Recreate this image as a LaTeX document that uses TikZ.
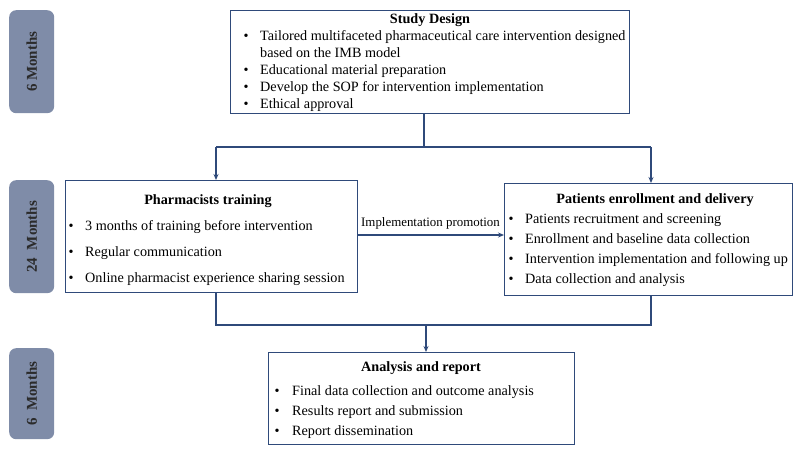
\documentclass[tikz,border=0pt]{standalone}
\usepackage{fontspec}
\setmainfont{Liberation Serif}
\usetikzlibrary{arrows.meta}
\definecolor{boxblue}{HTML}{2F4A7A}
\definecolor{pillfill}{HTML}{7F8CA8}
\definecolor{pilltext}{HTML}{2B2B2B}
\begin{document}
\begin{tikzpicture}[x=1pt,y=-1pt,
  box/.style={draw=boxblue,line width=1.3pt,fill=white,anchor=north west,inner sep=0pt},
  pill/.style={fill=pillfill,rounded corners=7pt,anchor=north west,inner sep=0pt,minimum width=45pt},
  pilllab/.style={rotate=90,font=\fontsize{15}{17}\selectfont\bfseries,text=pilltext},
  ttl/.style={font=\fontsize{14.2}{16}\selectfont\bfseries,anchor=base,inner sep=0pt},
  itm/.style={font=\fontsize{14.2}{16}\selectfont,anchor=base west,inner sep=0pt},
  bul/.style={font=\fontsize{14.2}{16}\selectfont,anchor=base,inner sep=0pt},
  conn/.style={draw=boxblue,line width=1.3pt},
  arr/.style={conn,-{Stealth[length=6pt,width=5pt]}}]
\useasboundingbox (0,0) rectangle (800,469);
% pills
\node[pill,minimum height=103pt] (p1) at (9,10) {};
\node[pilllab] at (p1.center) {6 Months};
\node[pill,minimum height=113pt] (p2) at (9,180) {};
\node[pilllab] at (p2.center) {24\enspace Months};
\node[pill,minimum height=91pt] (p3) at (9,348) {};
\node[pilllab] at (p3.center) {6\enspace Months};
% boxes
\node[box,minimum width=399pt,minimum height=103pt] (sd) at (230,10) {};
\node[box,minimum width=292pt,minimum height=112pt] (pt) at (65,180) {};
\node[box,minimum width=288pt,minimum height=112pt] (pe) at (504,183) {};
\node[box,minimum width=306pt,minimum height=92pt] (ar) at (268,352) {};
% study design text
\node[ttl] (sdt) at (430,23) {Study Design};
\foreach \y/\t/\b in {40/{Tailored multifaceted pharmaceutical care intervention designed}/1,
  57/{based on the IMB model}/0, 74/{Educational material preparation}/1,
  91/{Develop the SOP for intervention implementation}/1, 108/{Ethical approval}/1}{
  \node[itm] at (260,\y) {\t};
  \ifnum\b=1 \node[bul] at (246,\y) {•};\fi
}
% pharmacists training text
\node[ttl] (ptt) at (208,204) {Pharmacists training};
\foreach \y/\t in {230/{3 months of training before intervention},
  256/{Regular communication}, 282/{Online pharmacist experience sharing session}}{
  \node[itm] at (85,\y) {\t};
  \node[bul] at (71,\y) {•};
}
% patients text
\node[ttl] (pet) at (655,203) {Patients enrollment and delivery};
\foreach \y/\t in {223/{Patients recruitment and screening},
  243/{Enrollment and baseline data collection},
  263/{Intervention implementation and following up},
  283/{Data collection and analysis}}{
  \node[itm] at (525,\y) {\t};
  \node[bul] at (511,\y) {•};
}
% analysis text
\node[ttl] (art) at (421,371) {Analysis and report};
\foreach \y/\t in {395/{Final data collection and outcome analysis},
  415/{Results report and submission},
  435/{Report dissemination}}{
  \node[itm] at (292,\y) {\t};
  \node[bul] at (277,\y) {•};
}
% connectors
\coordinate (j1) at (424,147);
\coordinate (j1l) at (216,147);
\coordinate (j1r) at (651,147);
\draw[conn] (sd.south -| j1) -- (j1);
\draw[conn] (j1l) -- (j1r);
\draw[arr] (j1l) -- (j1l |- pt.north);
\draw[arr] (j1r) -- (j1r |- pe.north);
\coordinate (m) at (357,235);
\draw[arr] (m) -- (m -| pe.west) node[midway,above=5pt,font=\fontsize{12.9}{14}\selectfont,inner sep=0pt] {Implementation promotion};
\coordinate (j2l) at (216,325);
\coordinate (j2r) at (651,325);
\coordinate (j2) at (426,325);
\draw[conn] (j2l |- pt.south) -- (j2l) -- (j2r) -- (j2r |- pe.south);
\draw[arr] (j2) -- (j2 |- ar.north);
\end{tikzpicture}
\end{document}
